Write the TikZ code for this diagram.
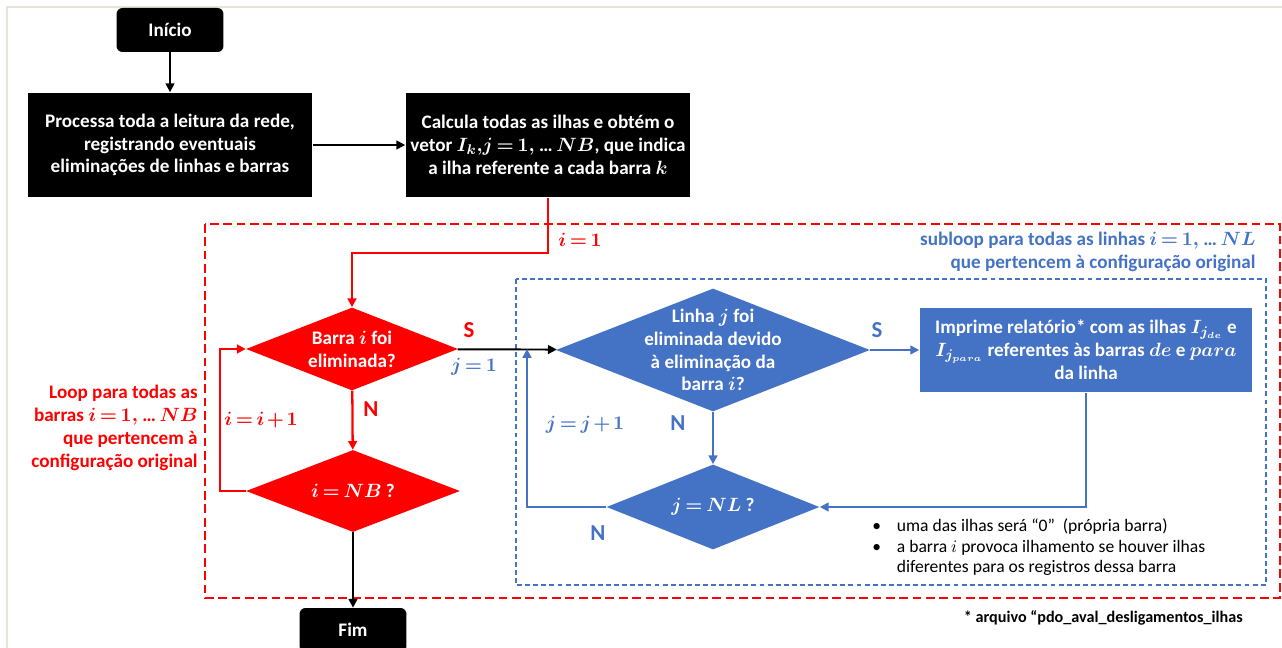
\documentclass[tikz,border=0pt]{standalone}
\usepackage{amsmath}
\usepackage{fontspec}
\setmainfont{Carlito}
\usetikzlibrary{shapes.geometric,arrows.meta}
\definecolor{ppred}{RGB}{255,0,0}
\definecolor{ppblue}{RGB}{68,114,196}
\definecolor{ppframe}{RGB}{232,229,216}
\newcommand{\tightmath}{\thickmuskip=3mu plus 1mu\medmuskip=2mu plus 1mu}
\tikzset{
    txt/.style={font=\fontsize{10.9}{13}\selectfont\bfseries\boldmath\tightmath, align=center, inner sep=0pt},
    yesno/.style={txt, font=\fontsize{13}{15}\selectfont\bfseries},
    blackbox/.style={txt, fill=black, text=white, minimum width=5.7cm, minimum height=2.1cm},
    termbox/.style={txt, fill=black, text=white, rounded corners=0.12cm, minimum width=2.14cm, minimum height=0.88cm},
    bluebox/.style={txt, fill=ppblue, text=white, minimum width=6.66cm, minimum height=1.7cm},
    decision/.style={diamond, inner sep=0pt},
    redline/.style={ppred, line width=1.3pt},
    blueline/.style={ppblue, line width=1.1pt},
    blackline/.style={black, line width=1.1pt},
}
\begin{document}
\begin{tikzpicture}[x=0.02cm, y=-0.02cm, >={Triangle[length=5pt,width=5pt]}]
    \useasboundingbox (0,0) rectangle (1282,648);
    \draw[ppframe, line width=1pt] (7,648) -- (7,7) -- (1282,7);
    % outer and inner loop frames
    \draw[ppred, line width=1.1pt, dash pattern=on 5pt off 2.6pt] (205,224) rectangle (1280,598);
    \draw[ppblue, line width=0.8pt, dash pattern=on 2.8pt off 1.8pt] (516,279) rectangle (1266,585);
    % boxes
    \node[termbox] (inicio) at (170,30) {Início};
    \node[blackbox] (proc) at (170,145) {Processa toda a leitura da rede,\\registrando eventuais\\eliminações de linhas e barras};
    \node[blackbox] (calc) at (548,145) {Calcula todas as ilhas e obtém o\\vetor $I_k{,}j = 1,$ …$\,NB$, que indica\\a ilha referente a cada barra $k$};
    \node[termbox] (fim) at (353,630) {Fim};
    \node[bluebox] (imp) at (1086,350) {Imprime relatório* com as ilhas $I_{j_{de}}$ e\\$I_{j_{para}}$ referentes às barras $de$ e $para$\\da linha};
    % decisions
    \node[decision, fill=ppred, minimum width=4.24cm, minimum height=1.66cm] (d1) at (352,349) {};
    \node[decision, fill=ppred, minimum width=4.28cm, minimum height=1.64cm] (d2) at (353,491) {};
    \node[decision, fill=ppblue, minimum width=6.28cm, minimum height=2.46cm] (d3) at (713,350) {};
    \node[decision, fill=ppblue, minimum width=4.26cm, minimum height=1.7cm] (d4) at (713,507) {};
    \node[txt, text=white] (d1t) at (d1) {Barra $i$ foi\\eliminada?};
    \node[txt, text=white] (d2t) at (d2) {$i = NB$ ?};
    \node[txt, text=white] (d3t) at (d3) {Linha $j$ foi\\eliminada devido\\à eliminação da\\barra $i$?};
    \node[txt, text=white] (d4t) at (d4) {$j = NL$ ?};
    % connectors
    \draw[blackline, ->] (inicio) -- (proc);
    \draw[blackline, ->] (proc) -- (calc);
    \draw[redline, ->] (calc.south) -- ++(0,55) -| (d1.north);
    \draw[redline, ->] (d1) -- (d2);
    \draw[redline, ->] (d2.west) -- ++(-26,0) |- (d1.west);
    \draw[blackline, ->] (d2) -- (fim);
    \draw[blackline, ->] (d1) -- (d3);
    \draw[blueline, ->] (d3) -- (imp);
    \draw[blueline, ->] (d3) -- (d4);
    \draw[blueline, ->] (imp.south) |- (d4.east);
    \coordinate (jret) at (527,349);
    \draw[blueline, ->] (d4.west) -| (jret);
    % labels
    \node[txt, text=ppred] (i1) at (580,240) {$i = 1$};
    \node[yesno, text=ppred] (s1) at (469,330) {S};
    \node[txt, text=ppblue] (j1) at (474,367) {$j = 1$};
    \node[yesno, text=ppred] (n1) at (371,409) {N};
    \node[txt, text=ppred] (iinc) at (261,420) {$i = i + 1$};
    \node[txt, text=ppred, align=right, anchor=east] (looptxt) at (198,428) {Loop para todas as\\barras $i = 1,$ …$\,NB$\\que pertencem à\\configuração original};
    \node[txt, text=ppblue, align=right, anchor=east] (subtxt) at (1256,252) {subloop para todas as linhas $i = 1,$ …$\,NL$\\que pertencem à configuração original};
    \node[yesno, text=ppblue] (s2) at (877,330) {S};
    \node[yesno, text=ppblue] (n2) at (678,423) {N};
    \node[txt, text=ppblue] (jinc) at (585,425) {$j = j + 1$};
    \node[yesno, text=ppblue] (n3) at (598,533) {N};
    \node[anchor=west, inner sep=0pt, font=\fontsize{10}{11.5}\selectfont] (notes) at (872,548) {%
        \begin{tabular}{@{}l@{\hspace{9pt}}l@{}}
        \textbullet & uma das ilhas será “0”\ \ (própria barra)\\
        \textbullet & a barra $i$ provoca ilhamento se houver ilhas\\
                    & diferentes para os registros dessa barra
        \end{tabular}};
    \node[txt, anchor=east, font=\fontsize{9.2}{11}\selectfont\bfseries] (arq) at (1243,618) {* arquivo “pdo\_aval\_desligamentos\_ilhas};
\end{tikzpicture}
\end{document}
